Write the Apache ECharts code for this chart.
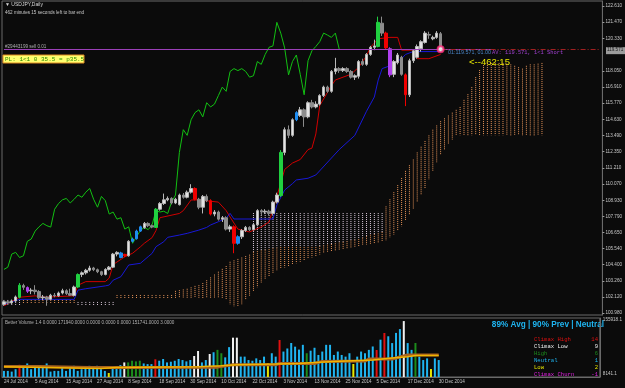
<!DOCTYPE html>
<html>
<head>
<meta charset="utf-8">
<script src="https://cdn.jsdelivr.net/npm/echarts@6/dist/echarts.min.js"></script>
<style>
html, body { margin: 0; padding: 0; background: #0b0b0b; }
#chart { width: 625px; height: 388px; }
</style>
</head>
<body>
<div id="chart"></div>
<script>
// ---- data ----
const tickLabels = ['24 Jul 2014', '5 Aug 2014', '15 Aug 2014', '27 Aug 2014', '8 Sep 2014', '18 Sep 2014', '30 Sep 2014',
    '10 Oct 2014', '22 Oct 2014', '3 Nov 2014', '13 Nov 2014', '25 Nov 2014', '5 Dec 2014', '17 Dec 2014', '30 Dec 2014'];
const priceTicks = [122.61, 121.47, 120.33, 118.05, 116.91, 115.77, 114.63, 113.49, 112.35, 111.21, 110.07,
    108.93, 107.79, 106.65, 105.54, 104.40, 103.26, 102.12, 100.98];

const opens = [101.60, 101.78, 101.70, 101.84, 102.10, 102.92, 102.78, 102.55, 102.60, 102.50, 102.06, 102.12, 101.96, 102.24, 102.20, 102.40, 102.56, 102.36, 102.22, 102.82,
    103.70, 103.82, 104.00, 104.16, 104.04, 103.90, 103.70, 104.06, 104.22, 105.14, 105.22, 105.12, 105.02, 106.04, 106.22, 106.76, 107.00, 107.30, 107.14, 107.02,
    108.30, 108.70, 108.96, 109.06, 108.74, 108.62, 109.30, 109.14, 109.50, 109.76, 109.00, 108.44, 109.20, 108.90, 107.96, 108.10, 107.60, 107.70, 106.90, 107.06,
    105.90, 106.36, 106.80, 107.02, 106.86, 107.20, 108.20, 108.10, 108.16, 108.00, 108.80, 109.26, 112.30, 113.90, 113.50, 114.60, 114.90, 115.30, 114.80, 115.80,
    115.50, 115.70, 116.30, 116.90, 116.60, 118.00, 118.20, 118.06, 118.20, 118.00, 117.60, 117.66, 118.70, 118.50, 119.20, 119.70, 119.76, 121.40, 120.70, 119.60,
    117.80, 118.62, 119.00, 117.76, 116.36, 118.76, 119.00, 119.60, 120.04, 120.60, 120.30, 120.40, 120.66];
const closes = [101.78, 101.70, 101.84, 102.12, 102.95, 102.80, 102.52, 102.60, 102.50, 102.06, 102.12, 101.96, 102.24, 102.20, 102.40, 102.56, 102.36, 102.24, 102.82, 103.70,
    103.82, 104.00, 104.16, 104.04, 103.90, 103.70, 104.06, 104.22, 105.14, 105.26, 104.90, 105.02, 106.04, 106.20, 106.76, 107.06, 107.30, 107.14, 107.04, 108.30,
    108.70, 108.96, 109.06, 108.74, 109.00, 109.30, 109.14, 109.50, 109.76, 109.00, 108.44, 109.20, 108.90, 107.96, 108.10, 107.60, 107.70, 106.90, 107.06, 105.90,
    106.36, 106.80, 107.02, 106.86, 107.20, 108.20, 108.10, 108.16, 108.00, 108.80, 109.30, 112.30, 113.90, 113.50, 114.60, 115.10, 115.30, 114.80, 115.80, 115.50,
    115.70, 116.30, 116.90, 116.60, 118.00, 118.20, 118.06, 118.20, 118.00, 117.60, 117.70, 118.70, 118.50, 119.20, 119.70, 119.80, 121.46, 120.70, 119.66, 117.76,
    118.70, 119.16, 117.80, 116.36, 118.76, 119.46, 119.76, 120.10, 120.70, 120.56, 120.40, 120.70, 119.57];
const lows = [101.50, 101.60, 101.62, 101.78, 102.02, 102.62, 102.40, 102.32, 102.30, 101.96, 101.90, 101.50, 101.90, 102.10, 102.14, 102.30, 102.26, 102.20, 102.16, 102.76,
    103.52, 103.70, 103.90, 103.94, 103.80, 103.60, 103.64, 103.98, 104.16, 104.98, 104.84, 104.92, 104.96, 105.96, 106.16, 106.70, 106.92, 107.04, 106.96, 106.98,
    108.20, 108.60, 108.86, 108.64, 108.66, 108.56, 109.04, 109.06, 109.40, 108.92, 108.30, 108.00, 108.80, 107.86, 107.80, 107.50, 107.40, 106.80, 106.70, 105.20,
    105.80, 106.20, 106.70, 106.76, 106.80, 107.10, 107.90, 107.96, 107.86, 107.90, 108.70, 109.16, 112.10, 113.30, 113.40, 114.50, 114.80, 114.10, 114.70, 115.40,
    115.40, 115.60, 116.20, 116.50, 116.50, 117.80, 117.90, 117.96, 117.90, 117.50, 117.40, 117.50, 118.40, 118.40, 119.10, 119.50, 119.70, 120.50, 119.56, 117.60,
    117.60, 118.50, 117.70, 115.56, 116.20, 118.60, 118.90, 119.40, 119.96, 120.30, 120.20, 120.30, 119.40];
const highs = [101.86, 101.88, 101.94, 102.22, 103.10, 103.05, 102.86, 102.74, 102.95, 102.60, 102.26, 102.20, 102.34, 102.40, 102.50, 102.70, 102.66, 102.70, 102.92, 103.78,
    103.92, 104.10, 104.32, 104.24, 104.12, 103.96, 104.14, 104.30, 105.22, 105.34, 105.30, 105.16, 106.12, 106.30, 106.86, 107.14, 107.40, 107.38, 107.22, 108.38,
    108.80, 109.40, 109.20, 109.14, 109.10, 109.40, 109.44, 109.62, 110.06, 109.84, 109.10, 109.30, 109.34, 109.00, 108.24, 108.20, 107.82, 107.80, 107.20, 107.16,
    106.46, 106.90, 107.12, 107.10, 107.30, 108.30, 108.30, 108.30, 108.26, 108.90, 109.46, 112.46, 114.06, 114.20, 114.70, 115.20, 115.50, 115.40, 115.90, 116.00,
    115.90, 116.40, 117.00, 117.00, 118.10, 118.96, 118.30, 118.30, 118.30, 118.10, 117.80, 118.80, 118.90, 119.30, 119.80, 120.24, 121.86, 121.86, 120.80, 119.70,
    118.80, 119.30, 119.10, 117.86, 118.90, 119.56, 119.90, 120.20, 120.84, 120.80, 120.52, 120.84, 120.78];
// coloured candles (g green, r red, b blue, p purple); the rest are plain
const candleMarks = {4: 'g', 6: 'p', 19: 'g', 30: 'b', 31: 'r', 33: 'b', 34: 'b', 35: 'b', 39: 'g', 49: 'r', 53: 'r',
    59: 'r', 60: 'b', 71: 'g', 75: 'b', 96: 'g', 98: 'r', 99: 'p', 103: 'r'};

// Ichimoku lines, [bar, price]
const tenkan = [[0, 101.5], [4, 102.1], [8, 102.2], [10, 102.1], [18, 102.2], [19, 102.95], [21, 103.2], [26, 103.2], [27, 103.45],
    [28, 104.4], [31, 104.95], [33, 105.2], [35, 105.65], [36, 105.9], [38, 106.3], [39, 106.8], [40, 107.7], [45, 108.0], [46, 108.2],
    [48, 108.95], [50, 108.95], [55, 108.8], [57, 108.2], [58, 107.75], [60, 106.9], [63, 106.7], [66, 107.05], [68, 107.4], [70, 109.2],
    [72, 111.1], [74, 111.55], [76, 111.8], [78, 112.5], [79, 112.6], [80, 113.6], [81, 115.6], [84, 117.0], [85, 117.4], [89, 117.8],
    [91, 118.3], [93, 119.1], [94, 119.7], [96, 120.3], [99, 120.4], [101, 120.4], [102, 119.5], [105, 119.5], [106, 118.9], [109, 118.9], [112, 119.2]];
const kijun = [[0, 101.6], [4, 101.95], [18, 101.95], [19, 102.6], [21, 102.7], [26, 102.9], [27, 102.96], [28, 103.3], [30, 103.55],
    [32, 104.37], [35, 104.49], [37, 104.96], [38, 105.19], [39, 105.66], [41, 106.01], [42, 106.32], [45, 106.48], [47, 106.6], [50, 106.83],
    [52, 107.02], [53, 107.19], [55, 107.42], [57, 107.66], [58, 108.01], [59, 107.61], [69, 107.61], [70, 108.6], [72, 109.65], [74, 110.1],
    [75, 110.36], [78, 110.48], [80, 110.71], [86, 112.5], [90, 113.5], [93, 115.2], [95, 116.2], [96, 117.4], [97, 118.2], [99, 118.4],
    [102, 118.9], [103, 119.2], [105, 119.4], [112, 119.4]];

// cloud, one entry per bar 0..138: sandy (orange) and thistle (white) dotted parts, null where absent
const sandyTop = [null, null, null, null, null,
    101.91, 101.91, 101.91, 101.91, 101.91, 101.91, 101.91, 101.91, 101.91, 101.91, 101.91, 101.91, 101.91, 101.91,
    null, null, null, null, null, null, null, null, null, null,
    102.26, 102.26, 102.26, 102.26, 102.26, 102.26, 102.26, 102.26, 102.26, 102.26, 102.26, 102.26, 102.26, 102.26, 102.26,
    102.55, 102.6, 102.65, 102.7, 102.8, 102.9, 102.95, 103.1, 103.3, 103.5, 103.7, 103.9, 104.1, 104.3, 104.6, 104.7,
    104.8, 104.9, 105.0, 105.1,
    105.3, 105.35, 105.4, 105.45, 105.5, 105.55, 105.6, 105.64, 105.64, 105.64, 105.64, 105.64, 105.64, 105.64, 105.64, 105.64,
    105.64, 105.7, 105.75, 105.8, 105.85, 105.9, 105.95, 106.0, 106.05, 106.1, 106.15, 106.2, 106.3, 106.4, 106.5, 106.55,
    106.6, 106.7,
    108.5, 109.0, 109.5, 110.0, 110.5, 111.0, 111.4, 111.8, 112.3, 112.7, 113.1, 113.5, 113.9, 114.2, 114.5,
    114.7, 114.9, 115.1, 115.3, 115.5, 116.0, 116.4, 116.9, 117.6, 118.1, 118.45, 118.6, 118.6, 118.6, 118.6, 118.6,
    118.55, 118.5, 118.4, 118.3, 118.2, 118.4, 118.5, 118.5, 118.55, 118.6];
const sandyBottom = [null, null, null, null, null,
    101.7, 101.7, 101.7, 101.7, 101.7, 101.7, 101.7, 101.7, 101.7, 101.7, 101.7, 101.7, 101.7, 101.7,
    null, null, null, null, null, null, null, null, null, null,
    102.05, 102.05, 102.05, 102.05, 102.05, 102.05, 102.05, 102.05, 102.05, 102.05, 102.05, 102.05, 102.05, 102.05, 102.05,
    102.05, 102.05, 102.05, 102.05, 102.05, 102.05, 102.05, 102.05, 102.05, 102.05, 102.05, 102.05, 102.0, 101.9, 101.6, 101.45,
    101.45, 101.6, 101.9, 102.2,
    102.5, 102.8, 103.1, 103.4, 103.6, 103.8, 104.0, 104.1, 104.2, 104.3, 104.4, 104.5, 104.6, 104.7, 104.8, 104.9,
    105.0, 105.1, 105.2, 105.3, 105.35, 105.4, 105.45, 105.5, 105.55, 105.6, 105.65, 105.7, 105.75, 105.8, 105.85, 105.9,
    105.95, 106.0,
    106.1, 106.3, 106.5, 106.8, 107.1, 107.5, 107.9, 108.3, 108.8, 109.3, 109.8, 110.4, 111.0, 111.6, 112.1,
    112.5, 112.9, 113.2, 113.5, 113.5, 113.5, 113.5, 113.5, 113.5, 113.5, 113.5, 113.5, 113.5, 113.5, 113.5, 113.5,
    113.5, 113.5, 113.5, 113.5, 113.5, 113.5, 113.5, 113.5, 113.5, 113.5];
const thistleTop = [101.91, 101.91, 101.91, 101.91, 101.91,
    null, null, null, null, null, null, null, null, null, null, null, null, null, null,
    101.77, 101.77, 101.77, 101.77, 101.77, 101.77, 101.77, 101.77, 101.77, 101.77,
    null, null, null, null, null, null, null, null, null, null, null, null, null, null, null,
    null, null, null, null, null, null, null, null, null, null, null, null, null, null, null, null,
    null, null, null, null,
    108.03, 108.03, 108.03, 108.03, 108.03, 108.03, 108.03, 108.03, 108.03, 108.03, 108.03, 108.03, 108.03, 108.03, 108.03, 108.03,
    108.03, 108.03, 108.03, 108.03, 108.03, 108.03, 108.03, 108.03, 108.03, 108.03, 108.03, 108.03, 108.03, 108.03, 108.03, 108.03,
    108.03, 108.03,
    null, null, null, null, null, null, null, null, null, null, null, null, null, null, null,
    null, null, null, null, null, null, null, null, null, null, null, null, null, null, null, null,
    null, null, null, null, null, null, null, null, null, null];
const thistleBottom = [101.56, 101.56, 101.56, 101.56, 101.56,
    null, null, null, null, null, null, null, null, null, null, null, null, null, null,
    101.56, 101.56, 101.56, 101.56, 101.56, 101.56, 101.56, 101.56, 101.56, 101.56,
    null, null, null, null, null, null, null, null, null, null, null, null, null, null, null,
    null, null, null, null, null, null, null, null, null, null, null, null, null, null, null, null,
    null, null, null, null,
    105.3, 105.35, 105.4, 105.45, 105.5, 105.55, 105.6, 105.64, 105.64, 105.64, 105.64, 105.64, 105.64, 105.64, 105.64, 105.64,
    105.64, 105.7, 105.75, 105.8, 105.85, 105.9, 105.95, 106.0, 106.05, 106.1, 106.15, 106.2, 106.3, 106.4, 106.5, 106.55,
    106.6, 106.7,
    null, null, null, null, null, null, null, null, null, null, null, null, null, null, null,
    null, null, null, null, null, null, null, null, null, null, null, null, null, null, null, null,
    null, null, null, null, null, null, null, null, null, null];

// Better Volume
const volumes = [16700, 16700, 14800, 21300, 33400, 26000, 37100, 21300, 26000, 30600, 26000, 37100, 14800, 16700, 16700, 26000, 16700, 26000, 30600, 16700,
    21300, 27800, 30600, 26000, 30600, 21300, 16700, 11000, 26000, 26000, 32500, 39900, 39900, 44500, 42700, 44500, 37100, 35300, 35300, 48400,
    44500, 49200, 39900, 41800, 44500, 49200, 46400, 42700, 46400, 57400, 71100, 39900, 46400, 63000, 67700, 74200, 65000, 53800, 81700, 107600,
    107600, 55700, 55700, 46400, 44500, 51000, 46400, 55700, 38000, 65000, 55700, 101200, 69600, 78000, 93000, 83000, 75000, 88000, 65000, 72000,
    80000, 60300, 69600, 88000, 88000, 60300, 69600, 60300, 55700, 65000, 35600, 55700, 69600, 65000, 74200, 83500, 73800, 102100, 120400, 111400,
    92800, 120600, 131000, 153000, 92800, 74200, 93000, 55700, 46400, 51000, 21900, 51000, 46400];
// volume bar classes: r climax high, w climax low, g high churn, y low; the rest neutral
const volumeMarks = {4: 'r', 27: 'y', 31: 'w', 32: 'g', 33: 'g', 34: 'g', 35: 'g', 39: 'r', 49: 'w', 50: 'w', 53: 'w', 55: 'g', 56: 'g',
    59: 'w', 60: 'w', 68: 'y', 71: 'r', 78: 'g', 90: 'y', 96: 'r', 98: 'r', 103: 'w', 106: 'g', 110: 'y'};
const volAvg = [[0, 27800], [25, 23200], [29, 26000], [50, 27800], [56, 30600], [60, 33400], [70, 35300], [76, 37100], [80, 39900],
    [85, 42700], [90, 44500], [95, 46400], [100, 52000], [104, 55700], [106, 58500], [112, 58500]];
const volAvgLong = [[0, 28800], [9, 28800], [22, 26000], [26, 26000], [32, 26000], [55, 27000], [59, 33400], [70, 33400], [71, 37100],
    [80, 37100], [82, 42700], [93, 43600], [94, 49200], [100, 49200], [104, 60300], [112, 60300]];

const legendRows = [['Climax High', '14', '#e01010'], ['Climax Low', '9', '#f0f0f0'], ['High', '6', '#1c8c1c'],
    ['Neutral', '1', '#1fb4f0'], ['Low', '2', '#e6e600'], ['Climax Churn', '-1', '#e020e0']];

// ---- chart ----
const N = 154;
const cats = [];
for (let i = 0; i < N; i++) cats.push(String(i));

const candleColors = {g: '#20d040', r: '#f00000', b: '#1e8cf0', p: '#b040f0'};
const volColors = {n: '#1fb4f0', r: '#e01010', w: '#f0f0f0', g: '#1c8c1c', y: '#e6e600'};

const candleData = opens.map(function (o, i) {
    const item = {value: [o, closes[i], lows[i], highs[i]]};
    const k = candleMarks[i];
    if (k) {
        const c = candleColors[k];
        item.itemStyle = {color: c, color0: c, borderColor: c, borderColor0: c};
    }
    return item;
});
const volData = volumes.map(function (v, i) {
    return {value: v, itemStyle: {color: volColors[volumeMarks[i] || 'n']}};
});
const cloudIdx = sandyTop.map(function (v, i) { return [i]; });
const chikou = closes.slice(26).map(function (c, i) { return [i, c]; });

const axisText = {color: '#c8c8c8', fontSize: 4.6, fontFamily: 'Liberation Sans'};
const isTick = function (i) { return i % 8 === 0 && i / 8 < tickLabels.length; };

function dotted(api, i, top, bottom, color) {
    const p1 = api.coord([i, top]);
    const p2 = api.coord([i, bottom]);
    return {
        type: 'line',
        shape: {x1: p1[0], y1: p1[1], x2: p2[0], y2: p2[1]},
        style: {stroke: color, lineWidth: 1, lineDash: [1, 1]}
    };
}

let myChart = echarts.init(document.getElementById('chart'));
let option = {
    backgroundColor: '#0b0b0b',
    animation: false,
    grid: [
        {left: 2, top: 1, width: 603, height: 314, show: true, borderColor: '#6a6a6a', borderWidth: 1},
        {left: 2, top: 318, width: 603, height: 59, show: true, borderColor: '#6a6a6a', borderWidth: 1}
    ],
    xAxis: [
        {type: 'category', gridIndex: 0, data: cats, axisLine: {show: false}, axisTick: {show: false},
            axisLabel: {show: false}, splitLine: {show: false}},
        {type: 'category', gridIndex: 1, data: cats, axisLine: {lineStyle: {color: '#6a6a6a'}},
            axisTick: {interval: isTick, length: 3, lineStyle: {color: '#9a9a9a'}},
            axisLabel: Object.assign({interval: isTick, align: 'left', margin: 2,
                formatter: function (v, idx) { return tickLabels[idx / 8]; }}, axisText),
            splitLine: {show: false}}
    ],
    yAxis: [
        {type: 'value', gridIndex: 0, position: 'right', min: 100.85, max: 122.962, splitLine: {show: false},
            axisLine: {show: true, lineStyle: {color: '#6a6a6a'}},
            axisTick: {show: true, length: 2, customValues: priceTicks, lineStyle: {color: '#9a9a9a'}},
            axisLabel: Object.assign({customValues: priceTicks, margin: 3, formatter: function (v) { return v.toFixed(3); }}, axisText)},
        {type: 'value', gridIndex: 1, position: 'right', min: 0, max: 161390, splitLine: {show: false},
            axisLine: {show: true, lineStyle: {color: '#6a6a6a'}},
            axisTick: {show: false},
            axisLabel: Object.assign({customValues: [155918.1, 8141.1], margin: 3,
                formatter: function (v) { return v.toFixed(1); }}, axisText)}
    ],
    series: [
        {
            // Kumo drawn like MT4: dotted histogram lines, sandy and thistle parts
            type: 'custom', xAxisIndex: 0, yAxisIndex: 0, z: 1,
            data: cloudIdx,
            renderItem: function (params, api) {
                const i = params.dataIndex;
                const parts = [];
                if (thistleTop[i] !== null) parts.push(dotted(api, i, thistleTop[i], thistleBottom[i], '#dccbdc'));
                if (sandyTop[i] !== null) parts.push(dotted(api, i, sandyTop[i], sandyBottom[i], '#e8955a'));
                return {type: 'group', children: parts};
            }
        },
        {type: 'line', data: tenkan, symbol: 'none', z: 3, lineStyle: {color: '#d00000', width: 1}},
        {type: 'line', data: kijun, symbol: 'none', z: 3, lineStyle: {color: '#1818d8', width: 1}},
        {type: 'line', data: chikou, symbol: 'none', z: 3, lineStyle: {color: '#12c012', width: 1}},
        {
            type: 'candlestick', z: 4, barWidth: 3,
            data: candleData,
            itemStyle: {color: '#e4e4e4', color0: '#8c8c8c', borderColor: '#b8b8b8', borderColor0: '#8c8c8c', borderWidth: 1},
            markLine: {
                silent: true, symbol: 'none', label: {show: false},
                data: [
                    [{coord: ['0', 119.58], lineStyle: {color: '#9b3fb8', width: 1, type: 'solid'}}, {coord: ['125', 119.58]}],
                    [{coord: ['112', 119.571], lineStyle: {color: '#a02020', width: 1, type: [5, 2, 1, 2]}}, {coord: ['153', 119.571]}]
                ]
            }
        },
        {type: 'scatter', data: [[112, 119.571]], symbol: 'emptyCircle', symbolSize: 6, z: 5,
            itemStyle: {color: '#ff2a7a', borderColor: '#ff2a7a', borderWidth: 1}},
        {type: 'bar', xAxisIndex: 1, yAxisIndex: 1, barWidth: 2, data: volData},
        {type: 'line', xAxisIndex: 1, yAxisIndex: 1, data: volAvgLong, symbol: 'none', z: 3,
            lineStyle: {color: '#a8621e', width: 3}},
        {type: 'line', xAxisIndex: 1, yAxisIndex: 1, data: volAvg, symbol: 'none', z: 4,
            lineStyle: {color: '#f0b400', width: 1.5}}
    ]
};
myChart.setOption(option);

// text overlays placed after the scales exist
const priceY = myChart.convertToPixel({yAxisIndex: 0}, 119.571);
const graphics = [
    {type: 'text', left: 5, top: 2, style: {text: '\u25BC USDJPY,Daily', fill: '#d8d8d8', fontSize: 5, fontFamily: 'Liberation Sans'}},
    {type: 'text', left: 5, top: 10, style: {text: '462 minutes 15 seconds left to bar end', fill: '#c8c8c8', fontSize: 4.6, fontFamily: 'Liberation Sans'}},
    {type: 'text', left: 5, top: 44, style: {text: '#29443199 sell 0.01', fill: '#b0b0b0', fontSize: 4.6, fontFamily: 'Liberation Sans'}},
    {type: 'rect', shape: {x: 3, y: 55, width: 81, height: 8}, style: {fill: '#ffff70', stroke: '#e08a20', lineWidth: 1}},
    {type: 'text', x: 5, y: 56, style: {text: 'PL: 1<1 0 35.5 = p35.5', fill: '#2a8a00', fontSize: 6, fontFamily: 'Liberation Mono'}},
    {type: 'text', x: 448, y: priceY + 1, style: {text: '01:119.571, 01.00', fill: '#4a86c8', fontSize: 5.4, fontFamily: 'Liberation Sans'}},
    {type: 'text', x: 492, y: priceY + 1, style: {text: 'AV: 119.571, 1<1 Short', fill: '#a040d0', fontSize: 5.4, fontFamily: 'Liberation Mono'}},
    {type: 'text', x: 469, y: priceY + 8, style: {text: '<--462:15', fill: '#e8e800', fontSize: 9.5, fontFamily: 'Liberation Sans'}},
    {type: 'rect', shape: {x: 606, y: priceY - 2, width: 19, height: 7}, style: {fill: '#9c9c9c'}},
    {type: 'text', x: 607, y: priceY - 1.5, style: {text: '119.571', fill: '#1a1a1a', fontSize: 4.6, fontFamily: 'Liberation Sans'}},
    {type: 'text', x: 5, y: 320, style: {text: 'Better Volume 1.4 0.0000 171940.0000 0.0000 0.0000 0.0000 151741.0000 3.0000',
        fill: '#b4b4b4', fontSize: 4.6, fontFamily: 'Liberation Sans'}},
    {type: 'text', right: 21, top: 321, style: {text: '89% Avg | 90% Prev | Neutral', fill: '#1fb4f0', fontSize: 8.2,
        fontWeight: 'bold', fontFamily: 'Liberation Sans'}}
];
legendRows.forEach(function (row, i) {
    graphics.push({type: 'text', x: 534, y: 337 + i * 6.9, style: {text: row[0], fill: row[2], fontSize: 5.6, fontFamily: 'Liberation Mono'}});
    graphics.push({type: 'text', x: 598, y: 337 + i * 6.9, style: {text: row[1], fill: row[2], fontSize: 5.6, fontFamily: 'Liberation Mono', align: 'right'}});
});
myChart.setOption({graphic: graphics});
</script>
</body>
</html>
